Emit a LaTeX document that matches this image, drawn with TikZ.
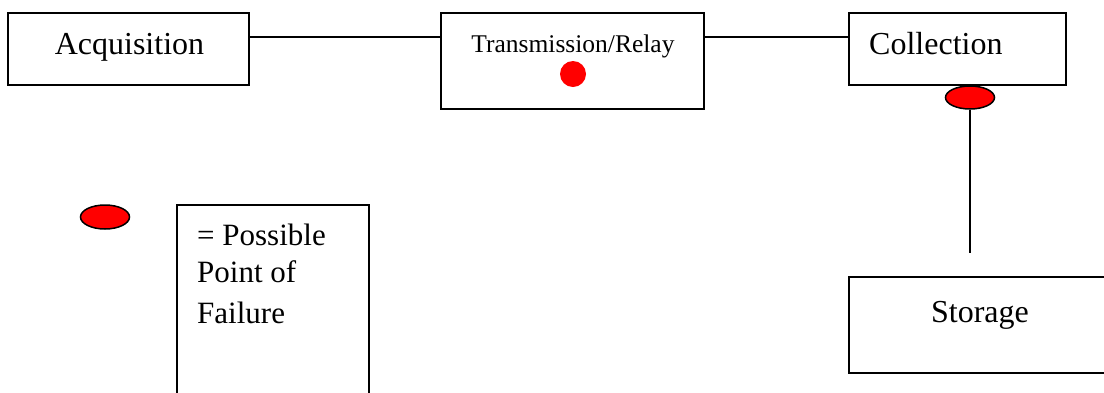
\documentclass[tikz,border=0pt]{standalone}
\usepackage{fontspec}
\setmainfont{Liberation Serif}
\usetikzlibrary{shapes.geometric}
\begin{document}
\begin{tikzpicture}[x=1pt,y=-1pt,
  stagebox/.style={draw=black,line width=1.6pt,rectangle,inner sep=0pt},
  bigtext/.style={font=\fontsize{32}{38}\selectfont,inner sep=0pt},
  smalltext/.style={font=\fontsize{25.5}{30}\selectfont,inner sep=0pt},
  legtext/.style={font=\fontsize{31}{37}\selectfont,inner sep=0pt,anchor=base west},
  link/.style={draw=black,line width=1.3pt},
  failmark/.style={ellipse,draw=black,line width=1.5pt,fill=red,inner sep=0pt,
    minimum width=49pt,minimum height=23pt},
  faildot/.style={circle,fill=red,inner sep=0pt,minimum size=26pt}]
  \clip (0,0) rectangle (1104,392);
  \fill[white] (0,0) rectangle (1104,392);

  % stage boxes
  \node[stagebox,minimum width=241pt,minimum height=72pt] (acq) at (128.5,49) {};
  \node[stagebox,minimum width=263pt,minimum height=96pt] (relay) at (572.5,61) {};
  \node[stagebox,minimum width=217pt,minimum height=72pt] (coll) at (957.5,49) {};
  \node[stagebox,minimum width=262pt,minimum height=96pt] (stor) at (980,325) {};

  % labels
  \node[bigtext,anchor=base] (acqlbl) at (129.5,54) {Acquisition};
  \node[smalltext,anchor=base] (relaylbl) at (573,52) {Transmission/Relay};
  \node[bigtext,anchor=base west] (colllbl) at (869,54) {Collection};
  \node[bigtext,anchor=base] (storlbl) at (980,322) {Storage};

  % failure points
  \node[faildot] (relaydot) at (573,74) {};
  \node[failmark] (collfail) at (970,97.5) {};
  \coordinate (storend) at (970,253);

  % connectors
  \draw[link] (acq.east |- 0,37) -- (relay.west |- 0,37);
  \draw[link] (relay.east |- 0,37) -- (coll.west |- 0,37);
  \draw[link] (collfail.south) -- (storend);

  % legend
  \node[failmark,minimum height=24pt] (legmark) at (105,217) {};
  \node[stagebox,minimum width=192pt,minimum height=215pt] (legbox) at (273,312.5) {};
  \node[legtext] (leg1) at (197,245) {= Possible};
  \node[legtext] (leg2) at (197,282) {Point of};
  \node[legtext] (leg3) at (197,323) {Failure};
\end{tikzpicture}
\end{document}
